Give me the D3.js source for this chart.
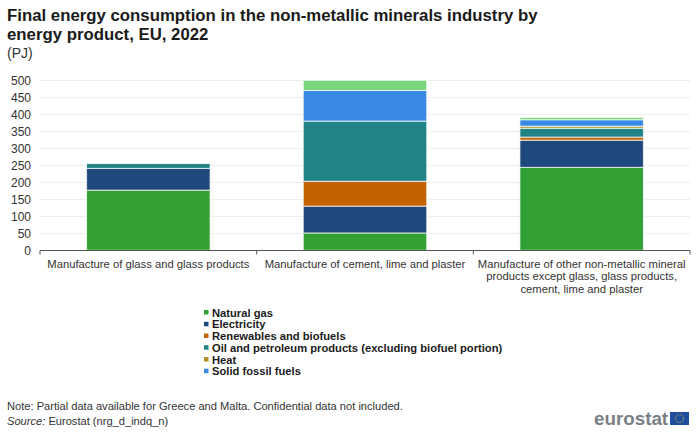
<!DOCTYPE html>
<html><head><meta charset="utf-8">
<script src="https://cdn.jsdelivr.net/npm/d3@7"></script>
<style>html,body{margin:0;padding:0;background:#fff}svg{display:block}text{font-family:"Liberation Sans",Arial,sans-serif}</style>
</head><body><svg id="c" width="700" height="432"></svg>
<script>
const categories=["Manufacture of glass and glass products","Manufacture of cement, lime and plaster","Manufacture of other non-metallic mineral products except glass, glass products, cement, lime and plaster"];
const categoryLines=[["Manufacture of glass and glass products"],["Manufacture of cement, lime and plaster"],["Manufacture of other non-metallic mineral","products except glass, glass products,","cement, lime and plaster"]];
const seriesNames=["Natural gas","Electricity","Renewables and biofuels","Oil and petroleum products (excluding biofuel portion)","Heat","Solid fossil fuels","Unlabelled"];
const seriesColors=["#33a033","#1f497d","#c46200","#208486","#b09120","#388ae2","#7bd77b"];
const naturalGas=[177,51,244];
const electricity=[64,79,80];
const renewables=[0,73,9];
const oil=[14,177,26];
const heat=[0,0,6];
const solid=[0,90,19];
const unlabelled=[0,30,7];
const yTicks=[0,50,100,150,200,250,300,350,400,450,500];
const legendCount=6;
const titleLines=["Final energy consumption in the non-metallic minerals industry by","energy product, EU, 2022"];
const unit="(PJ)";
const note="Note: Partial data available for Greece and Malta. Confidential data not included.";
const source="Eurostat (nrg_d_indq_n)";

const all=[naturalGas,electricity,renewables,oil,heat,solid,unlabelled];
const svg=d3.select("#c");
const x=d3.scaleBand().domain(categories).range([40,690]).paddingInner(0.43).paddingOuter(0.215);
const y=d3.scaleLinear().domain([0,500]).range([250.3,80.3]);
const rows=categories.map((c,i)=>{const r={c};seriesNames.forEach((s,j)=>r[s]=all[j][i]);return r;});
const stacked=d3.stack().keys(seriesNames)(rows);

titleLines.forEach((t,i)=>svg.append("text").attr("x",7).attr("y",21+i*19.3).attr("font-size",16.8).attr("font-weight","bold").attr("fill","#1a1a1a").text(t));
svg.append("text").attr("x",7).attr("y",57.5).attr("font-size",14).attr("fill","#333").text(unit);

const grid=svg.append("g");
grid.selectAll("line").data(yTicks.filter(d=>d>0)).join("line")
 .attr("x1",40).attr("x2",690).attr("y1",d=>Math.round(y(d))+.5).attr("y2",d=>Math.round(y(d))+.5)
 .attr("stroke","#dcdcdc").attr("stroke-dasharray","1 1");

const yAxis=svg.append("g").attr("transform","translate(40,0)").call(d3.axisLeft(y).tickValues(yTicks).tickSize(0).tickPadding(9));
yAxis.select(".domain").remove();
yAxis.selectAll("text").attr("font-size",12).attr("fill","#333").style("font-family",'"Liberation Sans",Arial,sans-serif');

svg.append("g").selectAll("g").data(stacked).join("g").attr("fill",(d,i)=>seriesColors[i])
 .selectAll("rect").data(d=>d.filter(p=>p[1]>p[0])).join("rect")
 .attr("x",d=>x(d.data.c)).attr("width",x.bandwidth())
 .attr("y",d=>y(d[1])).attr("height",d=>y(d[0])-y(d[1]))
 .attr("stroke","#fff").attr("stroke-opacity",.75).attr("stroke-width",1);

const axisY=Math.round(y(0))+.5;
svg.append("line").attr("x1",40).attr("x2",690).attr("y1",axisY).attr("y2",axisY).attr("stroke","#555");
d3.range(4).forEach(i=>{const px=40+i*650/3;svg.append("line").attr("x1",px).attr("x2",px).attr("y1",axisY).attr("y2",axisY+4).attr("stroke","#555");});

categories.forEach((c,i)=>{
 const cx=x(c)+x.bandwidth()/2;
 categoryLines[i].forEach((l,k)=>svg.append("text").attr("x",cx).attr("y",267.5+k*12.5).attr("text-anchor","middle").attr("font-size",11.25).attr("fill","#333").text(l));
});

const legY=[312.5,324.3,336,347.7,359.5,371.2];
seriesNames.slice(0,legendCount).forEach((s,i)=>{
 svg.append("rect").attr("x",204).attr("y",legY[i]-2.5).attr("width",4.5).attr("height",4.5).attr("fill",seriesColors[i]);
 svg.append("text").attr("x",212).attr("y",legY[i]+4).attr("font-size",11.2).attr("font-weight","bold").attr("fill","#1a1a1a").text(s);
});

svg.append("text").attr("x",7).attr("y",409.5).attr("font-size",11.12).attr("fill","#333").text(note);
const st=svg.append("text").attr("x",7).attr("y",424.5).attr("font-size",11.12).attr("fill","#333");
st.append("tspan").attr("font-style","italic").text("Source:");
st.append("tspan").text(" "+source);

svg.append("text").attr("x",594).attr("y",424.5).attr("font-size",18.8).attr("font-weight","bold").attr("fill","#7a7f87").text("eurostat");
svg.append("rect").attr("x",670).attr("y",412).attr("width",19).attr("height",13).attr("fill","#1f4e9e");
svg.append("circle").attr("cx",679.5).attr("cy",418.5).attr("r",4).attr("fill","none").attr("stroke","#d8c23a").attr("stroke-width",1).attr("stroke-dasharray","1 1.1");
</script></body></html>
